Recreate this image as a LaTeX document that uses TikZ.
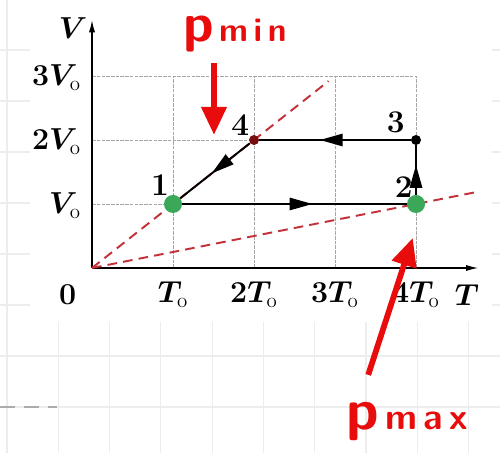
\documentclass[tikz,border=0pt]{standalone}
\usepackage{amsmath}
\usetikzlibrary{arrows.meta,decorations.markings}

\definecolor{ptgreen}{RGB}{58,168,88}
\definecolor{dashred}{RGB}{196,48,58}
\definecolor{handred}{RGB}{232,12,12}
\definecolor{ptfour}{RGB}{120,14,14}

\tikzset{
  pagegrid/.style={gray!14, line width=0.7pt},
  plotgrid/.style={gray!70, line width=0.4pt, dash pattern=on 2pt off 0.7pt},
  axis/.style={line width=0.8pt, -{Latex[length=7pt,width=3.5pt]}},
  isobar/.style={dashred, line width=1.1pt, dash pattern=on 5.5pt off 3.5pt},
  process/.style={line width=1.1pt, postaction={decorate},
    decoration={markings, mark=at position #1 with {\arrow{Triangle[length=13pt,width=7pt]}}}},
  process/.default=0.58,
  bigdot/.style={circle, fill=ptgreen, minimum size=0.36cm, inner sep=0pt},
  smalldot/.style={circle, fill=#1, minimum size=0.2cm, inner sep=0pt},
  lbl/.style={font=\fontsize{17}{19}\selectfont\boldmath},
  num/.style={font=\fontsize{18}{20}\selectfont\bfseries},
  handarrow/.style={handred, line width=3.3pt, -{Triangle[length=16pt,width=14pt]}},
  handtext/.style={handred, font=\sffamily\bfseries, inner sep=0pt},
}

\begin{document}
\begin{tikzpicture}[x=1.62cm, y=1.28cm]
  \useasboundingbox (-1.136,-2.891) rectangle (5.037,4.1875);

  % Notebook page behind the scan
  \foreach \k in {0,...,9}
    \draw[pagegrid] ({-1.049+0.633*\k},-2.891) -- ++(0,7.08);
  \foreach \k in {0,...,8}
    \draw[pagegrid] (-1.136,{-2.172+0.797*\k}) -- ++(6.17,0);
  \coordinate (dl) at (-1.136,-2.172);
  \coordinate (dr) at (-0.43,-2.172);
  \draw[gray!65, line width=1.7pt, dash pattern=on 8.6pt off 5pt] (dl) -- (dr);
  \fill[white] (-0.765,-0.84) rectangle (4.94,4.1875);

  % Grid of the plot
  \foreach \i in {1,...,4}
    \draw[plotgrid] (\i,0) -- (\i,3);
  \foreach \j in {1,...,3}
    \draw[plotgrid] (0,\j) -- (4,\j);

  % Axes
  \coordinate (o) at (0,0);
  \coordinate (vend) at (0,3.875);
  \coordinate (tend) at (4.77,0);
  \draw[axis] (o) -- (vend);
  \draw[axis] (o) -- (tend);
  \node[lbl] at (-0.235,3.75) {$V$};
  \node[lbl, anchor=east] at (-0.06,2.97) {$3V_{\text{o}}$};
  \node[lbl, anchor=east] at (-0.06,1.97) {$2V_{\text{o}}$};
  \node[lbl, anchor=east] at (-0.06,0.97) {$V_{\text{o}}$};
  \node[lbl] at (-0.3,-0.42) {$0$};
  \node[lbl, anchor=north] at (1,-0.12) {$T_{\text{o}}$};
  \node[lbl, anchor=north] at (2,-0.12) {$2T_{\text{o}}$};
  \node[lbl, anchor=north] at (3,-0.12) {$3T_{\text{o}}$};
  \node[lbl, anchor=north] at (4,-0.12) {$4T_{\text{o}}$};
  \node[lbl] at (4.63,-0.42) {$T$};

  % Isobars through the origin
  \coordinate (minend) at (2.92,2.92);
  \coordinate (maxend) at (4.72,1.18);
  \draw[isobar] (o) -- (minend);
  \draw[isobar] (o) -- (maxend);

  % States of the cycle
  \node[bigdot] (p1) at (1,1) {};
  \node[bigdot] (p2) at (4,1) {};
  \node[smalldot=black] (p3) at (4,2) {};
  \node[smalldot=ptfour] (p4) at (2,2) {};
  \node[num] at (0.84,1.3) {1};
  \node[num] at (3.85,1.27) {2};
  \node[num] at (3.75,2.28) {3};
  \node[num] at (1.83,2.23) {4};

  % Processes
  \draw[process] (p1) -- (p2);
  \draw[process=0.6] (p2) -- (p3);
  \draw[process=0.6] (p3) -- (p4);
  \draw[process=0.55] (p4) -- (p1);

  % Handwritten notes
  \node[handtext, anchor=base west] (pmin) at (1.12,3.54)
    {\fontsize{31}{31}\selectfont p\fontsize{19}{19}\selectfont\,m\,i\,n};
  \coordinate (minfrom) at (1.506,3.2);
  \coordinate (minto) at (1.506,2.08);
  \draw[handarrow] (minfrom) -- (minto);

  \node[handtext, anchor=base west] (pmax) at (3.14,-2.52)
    {\fontsize{33}{33}\selectfont p\fontsize{21}{21}\selectfont\,m\,a\,x};
  \coordinate (maxfrom) at (3.41,-1.67);
  \coordinate (maxto) at (3.96,0.47);
  \draw[handarrow] (maxfrom) -- (maxto);
\end{tikzpicture}
\end{document}
